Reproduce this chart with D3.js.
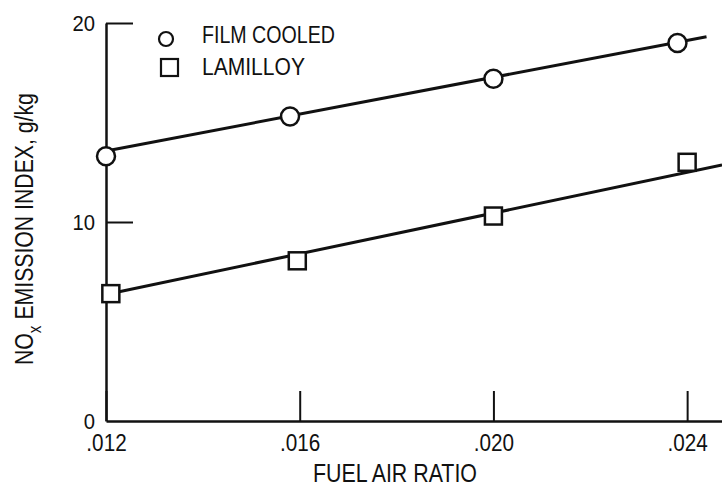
<!DOCTYPE html>
<html>
<head>
<meta charset="utf-8">
<script src="https://cdn.jsdelivr.net/npm/d3@7"></script>
<style>
  html, body { margin: 0; padding: 0; background: #fff; }
  svg { display: block; }
  text { font-family: "Liberation Sans", Arial, sans-serif; fill: #111; }
</style>
</head>
<body>
<svg id="chart" width="722" height="486"></svg>
<script>
// ---- data ----
const seriesNames = ["FILM COOLED", "LAMILLOY"];
const filmX = [0.0120, 0.0158, 0.0200, 0.0238];
const filmY = [13.3, 15.3, 17.2, 19.0];
const lamX  = [0.0121, 0.01595, 0.0200, 0.0240];
const lamY  = [6.4, 8.05, 10.3, 13.0];
// fitted straight lines (end points)
const filmLineX = [0.0120, 0.0244];
const filmLineY = [13.57, 19.31];
const lamLineX  = [0.0120, 0.02472];
const lamLineY  = [6.36, 12.86];
const xTicks = [0.012, 0.016, 0.020, 0.024];
const xTickLabels = [".012", ".016", ".020", ".024"];
const yTicks = [0, 10, 20];
const yTickLabels = ["0", "10", "20"];
const xTitle = "FUEL AIR RATIO";

const svg = d3.select("#chart");
const ink = "#111";

const x = d3.scaleLinear().domain([0.012, 0.02472]).range([106, 722]);
const y = d3.scaleLinear().domain([0, 20]).range([421, 23]);

// ---- axes ----
const xAxis = d3.axisBottom(x)
  .tickValues(xTicks)
  .tickFormat((d, i) => xTickLabels[i])
  .tickSize(-30).tickSizeOuter(0).tickPadding(14);
const gx = svg.append("g").attr("transform", `translate(0,${y(0)})`).call(xAxis);
gx.select(".domain").attr("stroke", ink).attr("stroke-width", 2.5);
gx.selectAll(".tick line").attr("stroke", ink).attr("stroke-width", 2);
gx.selectAll(".tick text").style("font-size", "23px").attr("fill", ink)
  .attr("transform", "scale(0.9,1)");

const yAxis = d3.axisLeft(y)
  .tickValues(yTicks)
  .tickFormat((d, i) => yTickLabels[i])
  .tickSize(-27).tickSizeOuter(0).tickPadding(12);
const gy = svg.append("g").attr("transform", `translate(${x(0.012)},0)`).call(yAxis);
gy.select(".domain").attr("stroke", ink).attr("stroke-width", 2.5);
gy.selectAll(".tick line").attr("stroke", ink).attr("stroke-width", 2)
  .attr("display", d => d === 0 ? "none" : null);
gy.selectAll(".tick text").style("font-size", "22px").attr("fill", ink)
  .attr("transform", "scale(0.92,1)");

// ---- lines ----
const line = d3.line().x(d => x(d[0])).y(d => y(d[1]));
svg.append("path").datum(d3.zip(filmLineX, filmLineY)).attr("d", line)
  .attr("fill", "none").attr("stroke", ink).attr("stroke-width", 3);
svg.append("path").datum(d3.zip(lamLineX, lamLineY)).attr("d", line)
  .attr("fill", "none").attr("stroke", ink).attr("stroke-width", 3);

// ---- markers ----
svg.append("g").selectAll("circle").data(d3.zip(filmX, filmY)).join("circle")
  .attr("cx", d => x(d[0])).attr("cy", d => y(d[1])).attr("r", 9)
  .attr("fill", "#fff").attr("stroke", ink).attr("stroke-width", 2.5);
const sq = 17;
svg.append("g").selectAll("rect").data(d3.zip(lamX, lamY)).join("rect")
  .attr("x", d => x(d[0]) - sq / 2).attr("y", d => y(d[1]) - sq / 2)
  .attr("width", sq).attr("height", sq)
  .attr("fill", "#fff").attr("stroke", ink).attr("stroke-width", 2.5);

// ---- helper: fit a text to a width by horizontal scaling ----
function fitText(sel, width) {
  const w = sel.node().getComputedTextLength();
  return width / w;
}

// ---- legend ----
const lg = svg.append("g");
lg.append("circle").attr("cx", 166).attr("cy", 39).attr("r", 7)
  .attr("fill", "#fff").attr("stroke", ink).attr("stroke-width", 2.2);
lg.append("rect").attr("x", 161).attr("y", 59).attr("width", 17).attr("height", 17)
  .attr("fill", "#fff").attr("stroke", ink).attr("stroke-width", 2.2);
[[seriesNames[0], 43, 133], [seriesNames[1], 75, 103]].forEach(([t, by, w]) => {
  const g = lg.append("g").attr("transform", `translate(202,${by})`);
  const tx = g.append("text").attr("x", 0).attr("y", 0).style("font-size", "24px").text(t);
  const s = fitText(tx, w);
  g.attr("transform", `translate(202,${by}) scale(${s},1)`);
});

// ---- x title ----
{
  const g = svg.append("g");
  const tx = g.append("text").attr("text-anchor", "middle").style("font-size", "25px").text(xTitle);
  const s = fitText(tx, 164);
  g.attr("transform", `translate(395,482) scale(${s},1)`);
}

// ---- y title ----
{
  const g = svg.append("g");
  const tx = g.append("text").attr("text-anchor", "start").style("font-size", "25px");
  tx.append("tspan").text("NO");
  tx.append("tspan").attr("dy", 8).style("font-size", "18px").text("x");
  tx.append("tspan").attr("dy", -8).text(" EMISSION INDEX, g/kg");
  const s = fitText(tx, 272);
  g.attr("transform", `translate(33,365) rotate(-90) scale(${s},1)`);
}
</script>
</body>
</html>
